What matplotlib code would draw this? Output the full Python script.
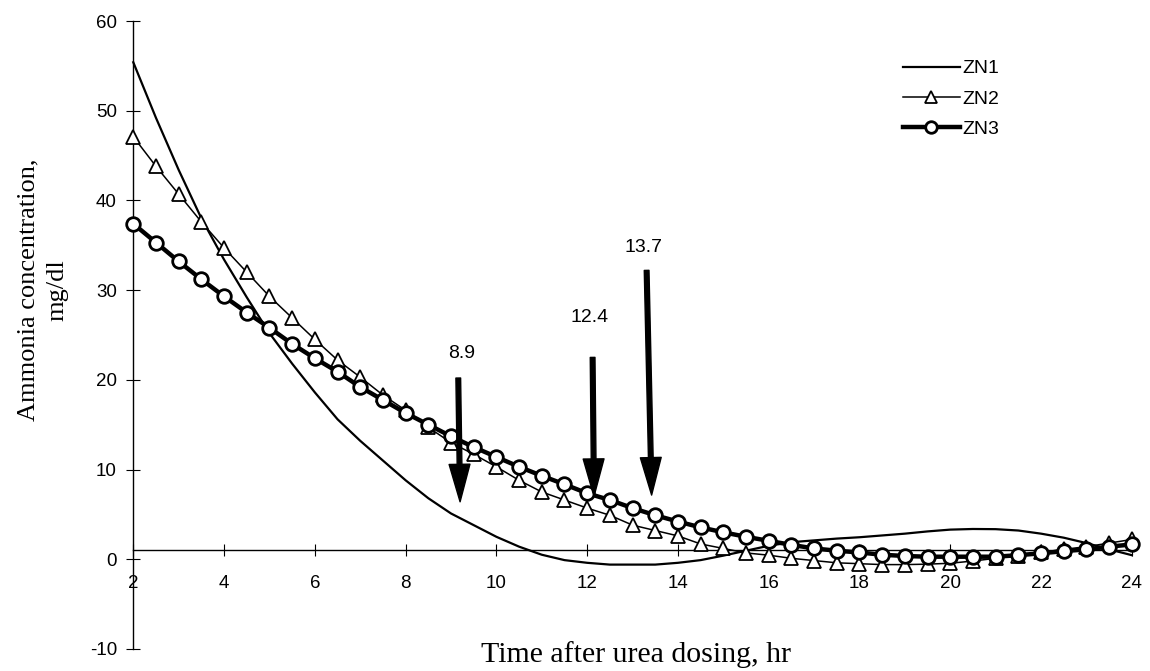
import numpy as np
import matplotlib
matplotlib.use('Agg')
import matplotlib.pyplot as plt

# hours after dosing, every half hour
hours = np.arange(2, 24.01, 0.5)

zn1 = [55.4, 49.2, 43.4, 38.0, 33.4, 29.2, 25.2, 21.8, 18.6, 15.6, 13.2, 11.0,
       8.8, 6.8, 5.1, 3.8, 2.5, 1.4, 0.5, -0.1, -0.4, -0.6, -0.6, -0.6, -0.4,
       -0.1, 0.4, 0.95, 1.5, 1.9, 2.1, 2.3, 2.45, 2.65, 2.85, 3.1, 3.3, 3.37,
       3.35, 3.2, 2.85, 2.4, 1.8, 1.1, 0.45]
zn2 = [47.1, 43.8, 40.7, 37.6, 34.7, 32.0, 29.3, 26.9, 24.5, 22.2, 20.3, 18.3,
       16.6, 14.7, 13.0, 11.7, 10.3, 8.8, 7.5, 6.6, 5.7, 4.9, 3.8, 3.2, 2.6,
       1.7, 1.2, 0.7, 0.45, 0.1, -0.15, -0.4, -0.5, -0.6, -0.6, -0.55, -0.45,
       -0.2, 0.1, 0.4, 0.75, 1.1, 1.4, 1.8, 2.2]
zn3 = [37.4, 35.3, 33.2, 31.2, 29.3, 27.5, 25.8, 24.0, 22.4, 20.9, 19.2, 17.75,
       16.3, 15.0, 13.7, 12.5, 11.4, 10.3, 9.3, 8.35, 7.35, 6.6, 5.7, 4.9, 4.2,
       3.55, 3.0, 2.5, 2.05, 1.6, 1.2, 0.95, 0.75, 0.5, 0.36, 0.28, 0.28, 0.28,
       0.28, 0.45, 0.66, 0.9, 1.1, 1.4, 1.65]

# arrows marking the times
arrow_labels = ['8.9', '12.4', '13.7']
arrow_x_top = [9.16, 12.12, 13.31]
arrow_x_tip = [9.2, 12.15, 13.42]
arrow_top = [20.2, 22.5, 32.2]
arrow_tip = [6.4, 7.0, 7.15]
label_x = [9.23, 12.06, 13.24]
label_y = [22.95, 26.9, 34.8]

xticks = list(range(2, 25, 2))
yticks = list(range(-10, 61, 10))

plt.rcParams['font.family'] = ['Liberation Sans', 'DejaVu Sans']
plt.rcParams['axes.unicode_minus'] = False

fig = plt.figure(figsize=(11.5, 6.71), dpi=100)
ax = fig.add_axes([0.1159, 0.0329, 0.8683, 0.9358])

ax.plot(hours, zn1, color='black', lw=1.6, label='ZN1', clip_on=False, zorder=2)
ax.plot(hours, zn2, color='black', lw=1.1, marker='^', ms=10, mfc='white',
        mec='black', mew=1.3, label='ZN2', clip_on=False, zorder=3)
ax.plot(hours, zn3, color='black', lw=3.2, marker='o', ms=9.8, mfc='white',
        mec='black', mew=2.0, label='ZN3', clip_on=False, zorder=4)

for i in range(len(arrow_labels)):
    ax.annotate('', xy=(arrow_x_tip[i], arrow_tip[i]),
                xytext=(arrow_x_top[i], arrow_top[i]),
                arrowprops=dict(facecolor='black', edgecolor='black', width=3.4,
                                headwidth=15, headlength=27, shrink=0),
                zorder=5)
    ax.text(label_x[i], label_y[i], arrow_labels[i], ha='center', va='center',
            fontsize=14)

ax.set_xlim(2, 24)
ax.set_ylim(-10, 60)
ax.set_xticks(xticks)
ax.set_yticks(yticks)
ax.spines['top'].set_visible(False)
ax.spines['right'].set_visible(False)
ax.spines['bottom'].set_position(('data', 1))
ax.spines['left'].set_linewidth(1.0)
ax.spines['bottom'].set_linewidth(1.0)
ax.tick_params(axis='x', direction='inout', length=9, width=0.8, pad=13,
               labelsize=13.5)
ax.tick_params(axis='y', direction='inout', length=9.5, width=0.8, pad=7,
               labelsize=13.5)
ax.patch.set_visible(False)

fig.text(0.037, 1 - 290 / 671, 'Ammonia concentration,\nmg/dl', rotation=90,
         ha='center', va='center', multialignment='center',
         family=['Liberation Serif'], fontsize=19, linespacing=1.4)
fig.text(0.553, 1 - 655 / 671, 'Time after urea dosing, hr', ha='center',
         va='center', family=['Liberation Serif'], fontsize=21.5)

ax.legend(loc='upper left', bbox_to_anchor=(0.785, 0.911),
          bbox_transform=fig.transFigure, frameon=False, fontsize=14,
          handlelength=2.95, handletextpad=0.1, labelspacing=0.65,
          borderpad=0, borderaxespad=0, markerscale=0.85)

fig.savefig('out.png', dpi=100)
